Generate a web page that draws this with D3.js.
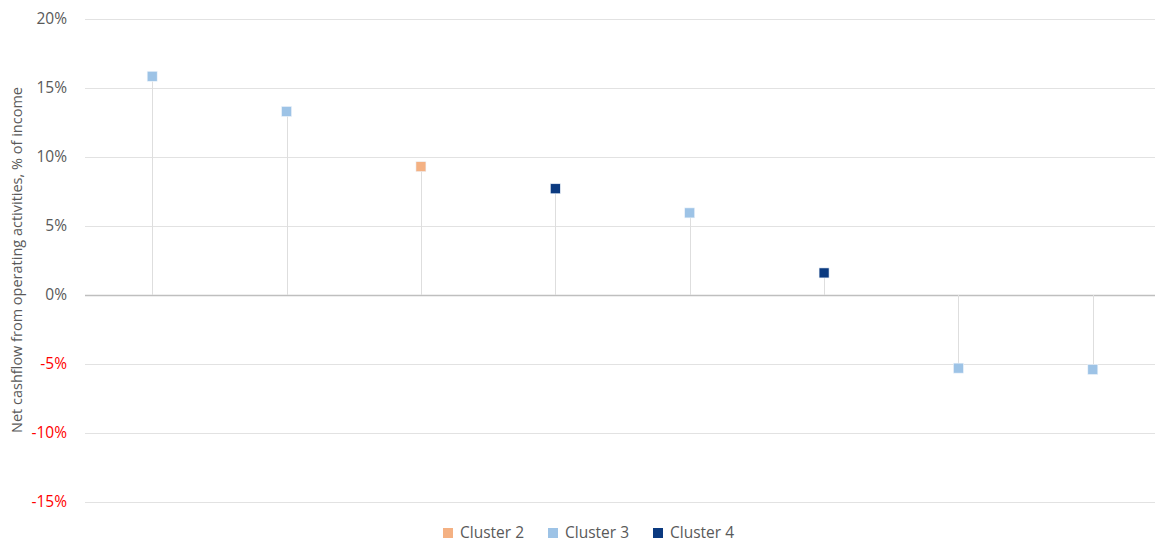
<!DOCTYPE html>
<html>
<head>
<meta charset="utf-8"/>
<title>Net cashflow</title>
<script src="https://cdn.jsdelivr.net/npm/d3@7"></script>
<style>
  body { margin: 0; background: #fff; }
  svg { display: block; font-family: "Open Sans", sans-serif; }
</style>
</head>
<body>
<svg id="chart" width="1155" height="543"></svg>
<script>
// data
var categories = ["E1", "E2", "E3", "E4", "E5", "E6", "E7", "E8"];
var values = [15.85, 13.3, 9.3, 7.7, 5.95, 1.6, -5.3, -5.4];
var clusters = ["Cluster 3", "Cluster 3", "Cluster 2", "Cluster 4", "Cluster 3", "Cluster 4", "Cluster 3", "Cluster 3"];
var legendNames = ["Cluster 2", "Cluster 3", "Cluster 4"];
var yTicks = [-15, -10, -5, 0, 5, 10, 15, 20];

var colors = d3.scaleOrdinal()
    .domain(legendNames)
    .range(["#f4b183", "#9dc3e6", "#0b3a80"]);

var svg = d3.select("#chart"),
    plotLeft = 85, plotRight = 1160, plotTop = 19, plotBottom = 502;

var x = d3.scaleBand()
    .domain(categories)
    .range([plotLeft, plotRight])
    .padding(0);

var y = d3.scaleLinear()
    .domain([-15, 20])
    .range([plotBottom, plotTop]);

// gridlines
svg.append("g")
  .selectAll("line")
  .data(yTicks)
  .enter().append("line")
    .attr("x1", plotLeft)
    .attr("x2", plotRight)
    .attr("y1", function(d) { return Math.round(y(d)) + 0.5; })
    .attr("y2", function(d) { return Math.round(y(d)) + 0.5; })
    .attr("stroke", function(d) { return d === 0 ? "#bfbfbf" : "#e2e2e2"; })
    .attr("stroke-width", function(d) { return d === 0 ? 1.3 : 1; });

// tick labels
var yAxis = svg.append("g")
    .attr("transform", "translate(" + 67 + ",0)")
    .call(d3.axisLeft(y).tickValues(yTicks).tickSize(0).tickPadding(0)
      .tickFormat(function(d) { return d + "%"; }));
yAxis.select(".domain").remove();
yAxis.selectAll("text")
    .attr("font-family", "Open Sans, sans-serif")
    .attr("font-size", "15.5px")
    .attr("fill", function(d) { return d < 0 ? "#ff0000" : "#595959"; });

// axis title
svg.append("text")
    .attr("transform", "translate(22," + 260 + ") rotate(-90)")
    .attr("text-anchor", "middle")
    .attr("font-size", "14.5px")
    .attr("fill", "#595959")
    .text("Net cashflow from operating activities, % of income");

// drop lines
svg.append("g")
  .selectAll("line")
  .data(values)
  .enter().append("line")
    .attr("x1", function(d, i) { return Math.round(x(categories[i]) + x.bandwidth() / 2) + 0.5; })
    .attr("x2", function(d, i) { return Math.round(x(categories[i]) + x.bandwidth() / 2) + 0.5; })
    .attr("y1", y(0))
    .attr("y2", function(d) { return y(d); })
    .attr("stroke", "#dedede")
    .attr("stroke-width", 1);

// markers
var m = 10;
svg.append("g")
  .selectAll("rect")
  .data(values)
  .enter().append("rect")
    .attr("x", function(d, i) { return x(categories[i]) + x.bandwidth() / 2 - m / 2; })
    .attr("y", function(d) { return y(d) - m / 2; })
    .attr("width", m)
    .attr("height", m)
    .attr("fill", function(d, i) { return colors(clusters[i]); })
    .attr("stroke", "#eef4fb")
    .attr("stroke-width", 0.6);

// legend
var legendX = [443, 548, 653];
var legend = svg.append("g")
  .selectAll("g")
  .data(legendNames)
  .enter().append("g")
    .attr("transform", function(d, i) { return "translate(" + legendX[i] + ",533)"; });
legend.append("rect")
    .attr("x", 0)
    .attr("y", -5)
    .attr("width", 10)
    .attr("height", 10)
    .attr("fill", function(d) { return colors(d); });
legend.append("text")
    .attr("x", 17)
    .attr("dy", "0.35em")
    .attr("font-size", "15.5px")
    .attr("fill", "#595959")
    .text(function(d) { return d; });
</script>
</body>
</html>
